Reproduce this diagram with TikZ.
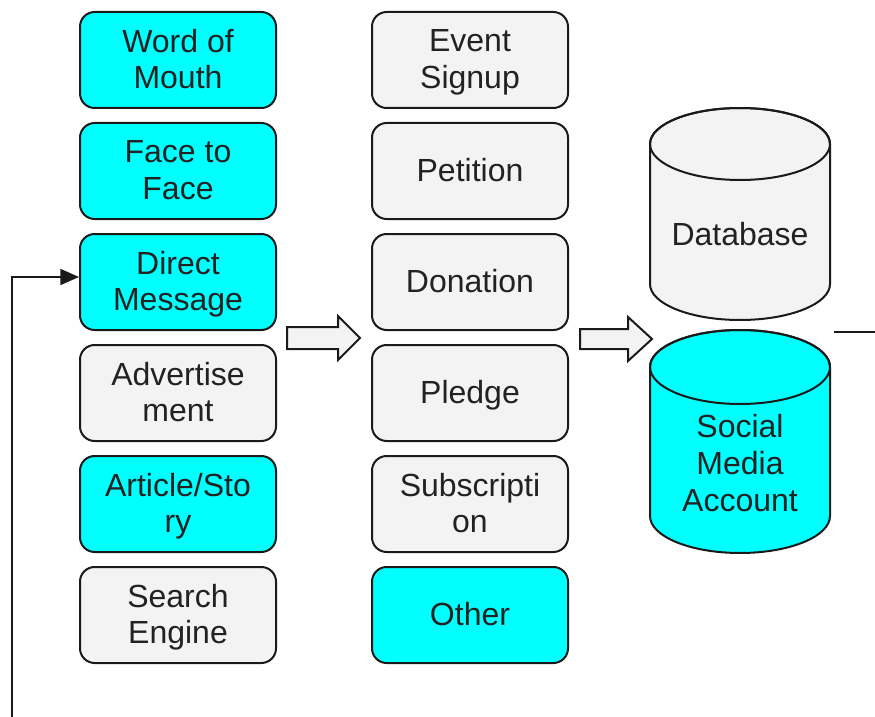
\documentclass[tikz,border=0pt]{standalone}
\usepackage{fontspec}
\setmainfont{Liberation Sans}
\usetikzlibrary{arrows.meta}
\definecolor{cy}{HTML}{00FFFF}
\definecolor{lg}{HTML}{F3F3F3}
\definecolor{ln}{HTML}{1A1A1A}
\definecolor{tx}{HTML}{222222}
\begin{document}
\begin{tikzpicture}[x=0.75pt,y=-0.75pt,
  box/.style={draw=ln, line width=1.5pt, rounded corners=11pt,
    minimum width=147pt, minimum height=72pt, align=center,
    font=\fontsize{24}{27.5}\selectfont, text=tx, inner sep=0pt,
    text depth=1.5pt},
  cyanbox/.style={box, fill=cy},
  greybox/.style={box, fill=lg},
  cyltext/.style={align=center, font=\fontsize{24}{28}\selectfont, text=tx, inner sep=0pt},
  cylline/.style={draw=ln, line width=1.5pt},
  hollow/.style={draw=ln, line width=1.5pt, fill=lg, line join=miter},
  conn/.style={draw=ln, line width=1.3pt}
]
\useasboundingbox (0,0) rectangle (875,717);

% cylinders
\path[cylline, fill=lg] (650,144) -- (650,284) arc[start angle=180, end angle=0, x radius=90, y radius=36] -- (830,144) arc[start angle=0, end angle=-180, x radius=90, y radius=36] -- cycle;
\draw[cylline] (740,144) ellipse [x radius=90, y radius=36];
\path[cylline, fill=cy] (650,367) -- (650,516) arc[start angle=180, end angle=0, x radius=90, y radius=37] -- (830,367) arc[start angle=0, end angle=-180, x radius=90, y radius=37] -- cycle;
\draw[cylline] (740,367) ellipse [x radius=90, y radius=37];

\node[cyltext] (db) at (740,234) {Database};
\node[cyltext] (sma) at (740,463) {Social\\Media\\Account};

% left column
\begin{scope}[every node/.append style={yshift=-1.5pt}]
\node[cyanbox] (wom) at (178,58) {Word of\\Mouth};
\node[cyanbox] (ftf) at (178,169) {Face to\\Face};
\node[cyanbox] (dm) at (178,280) {Direct\\Message};
\node[greybox] (adv) at (178,391) {Advertise\\ment};
\node[cyanbox] (art) at (178,502) {Article/Sto\\ry};
\node[greybox] (se) at (178,613) {Search\\Engine};

% middle column
\node[greybox] (es) at (470,58) {Event\\Signup};
\node[greybox] (pet) at (470,169) {Petition};
\node[greybox] (don) at (470,280) {Donation};
\node[greybox] (ple) at (470,391) {Pledge};
\node[greybox] (sub) at (470,502) {Subscripti\\on};
\node[cyanbox] (oth) at (470,613) {Other};
\end{scope}

% hollow arrows
\draw[hollow] (287,327) -- (338,327) -- (338,316) -- (360,338) -- (338,360) -- (338,349) -- (287,349) -- cycle;
\draw[hollow] (580,329) -- (628,329) -- (628,317) -- (652,339) -- (628,361) -- (628,349) -- (580,349) -- cycle;

% feedback connector
\coordinate (fb0) at (12,717);
\draw[conn, -{Triangle[length=14pt,width=12pt]}] (fb0) |- ([yshift=3.75pt]dm.west);

% right stub
\coordinate (r0) at (834,332);
\coordinate (r1) at (875,332);
\draw[conn] (r0) -- (r1);
\end{tikzpicture}
\end{document}
